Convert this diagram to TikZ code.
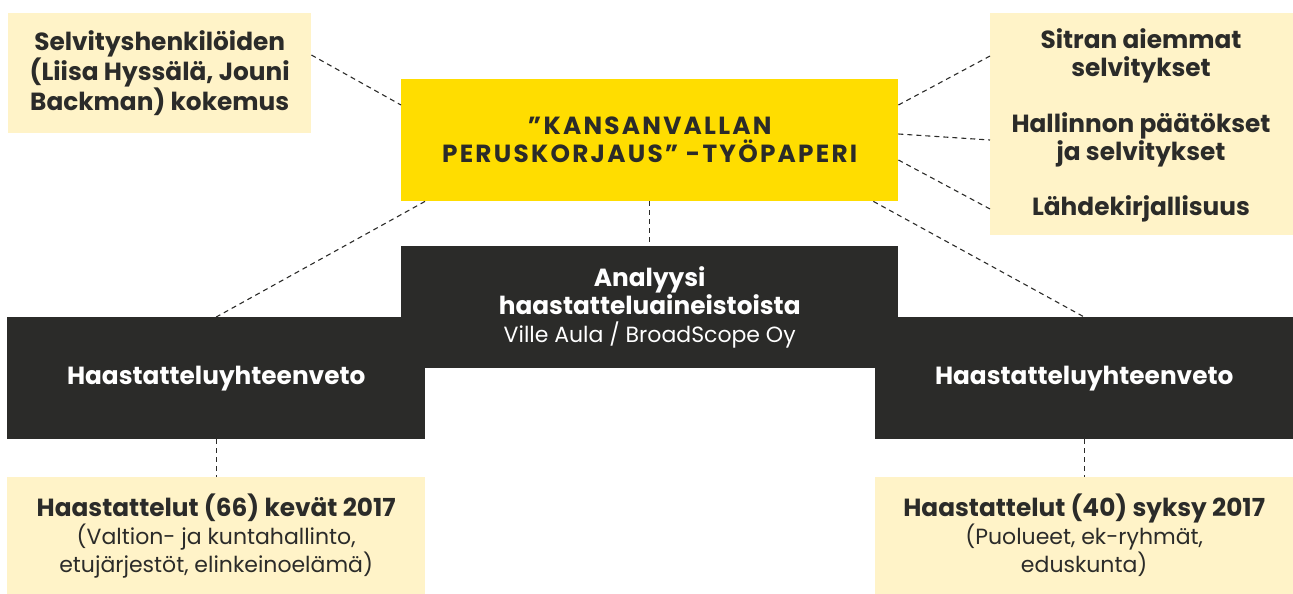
\documentclass[tikz,border=0pt]{standalone}
\usepackage{fontspec}
\setmainfont{Poppins}
\usepackage{tikz}

\definecolor{ink}{HTML}{2B2B29}
\definecolor{sunyellow}{HTML}{FFDD00}
\definecolor{paleyellow}{HTML}{FFF3C8}

% bold label text and the lighter second lines
\newcommand{\boldtxt}{\bfseries\fontsize{24.8}{28}\selectfont}
\newcommand{\lighttxt}[1]{{\mdseries\fontsize{22}{28}\selectfont #1}}

\tikzset{
  box/.style={anchor=north west, inner sep=0pt, align=center, font=\boldtxt},
  palebox/.style={box, fill=paleyellow, text=ink},
  darkbox/.style={box, fill=ink, text=white},
  srctext/.style={align=center, text=ink, font=\boldtxt},
  link/.style={draw=ink, dashed, dash pattern=on 5pt off 4pt, line width=1.1pt}
}

\begin{document}
\begin{tikzpicture}[x=1pt,y=-1pt]
\useasboundingbox (0,0) rectangle (1293,594);

% Top row
\node[palebox, minimum width=303pt, minimum height=120pt] (persons) at (8,13)
  {Selvityshenkilöiden\\(Liisa Hyssälä, Jouni\\Backman) kokemus};
\node[box, fill=sunyellow, text=ink, minimum width=497pt, minimum height=122pt,
      font=\boldtxt\addfontfeature{LetterSpace=9}] (paper) at (401,79)
  {"KANSANVALLAN\\PERUSKORJAUS" -TYÖPAPERI};
\node[palebox, minimum width=303pt, minimum height=222pt] (sources) at (990,13) {};
\node[srctext] (sitra) at (1141,56) {Sitran aiemmat\\selvitykset};
\node[srctext] (admin) at (1141,140) {Hallinnon päätökset\\ja selvitykset};
\node[srctext] (lit) at (1141,209) {Lähdekirjallisuus};

% Dark boxes
\node[darkbox, minimum width=418pt, minimum height=122pt] (sumleft) at (7,317) {Haastatteluyhteenveto};
\node[darkbox, minimum width=418pt, minimum height=122pt] (sumright) at (875,317) {Haastatteluyhteenveto};
\node[darkbox, minimum width=497pt, minimum height=122pt] (analysis) at (401,246)
  {Analyysi\\haastatteluaineistoista\\\lighttxt{Ville Aula / BroadScope Oy}};

% Interviews
\node[palebox, minimum width=418pt, minimum height=117pt] (spring) at (7,477)
  {Haastattelut (66) kevät 2017\\\lighttxt{(Valtion- ja kuntahallinto,}\\\lighttxt{etujärjestöt, elinkeinoelämä)}};
\node[palebox, minimum width=418pt, minimum height=117pt] (autumn) at (875,477)
  {Haastattelut (40) syksy 2017\\\lighttxt{(Puolueet, ek-ryhmät,}\\\lighttxt{eduskunta)}};

% Dashed links
\draw[link] ([yshift=-42pt]persons.north east) -- ([yshift=-26pt]paper.north west);
\draw[link] ([yshift=-26pt]paper.north east) -- (sitra -| sources.west);
\draw[link] ([yshift=-55pt]paper.north east) -- (admin -| sources.west);
\draw[link] ([yshift=-81pt]paper.north east) -- (lit -| sources.west);
\draw[link] ([xshift=24pt]paper.south west) -- (sumleft.north);
\draw[link] (paper.south) -- (analysis.north);
\draw[link] ([xshift=-25pt]paper.south east) -- (sumright.north);
\draw[link] (sumleft.south) -- (spring.north);
\draw[link] (sumright.south) -- (autumn.north);
\end{tikzpicture}
\end{document}
